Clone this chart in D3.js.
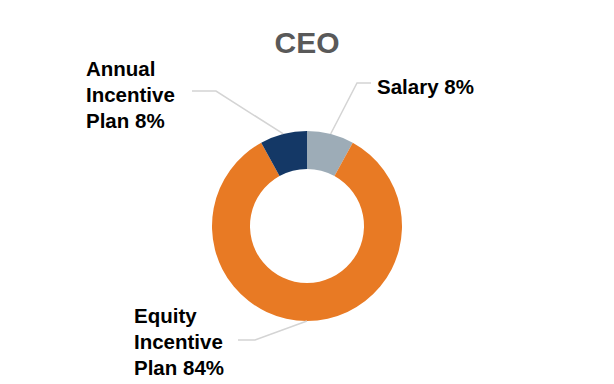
<!DOCTYPE html>
<html>
<head>
<meta charset="utf-8">
<script src="https://cdn.jsdelivr.net/npm/d3@7"></script>
<style>
  body { margin: 0; background: #fff; }
  svg { display: block; font-family: "Liberation Sans", Arial, sans-serif; }
</style>
</head>
<body>
<svg id="chart"></svg>
<script>
// data
const categories = ["Salary", "Equity Incentive Plan", "Annual Incentive Plan"];
const shares = [8, 84, 8];
const labelLines = [["Salary 8%"], ["Equity", "Incentive", "Plan 84%"], ["Annual", "Incentive", "Plan 8%"]];
const title = "CEO";

// layout
const width = 614, height = 384;
const cx = 307, cy = 226;
const outerR = 95, innerR = 57;
const colors = ["#9dacb7", "#e87a24", "#143866"];

// where each leader line bends and where its text sits
const callouts = [
  { elbow: [357, 83], end: [371, 83], textX: 377, textY: 94, anchor: "start" },
  { elbow: [255, 340], end: [238, 340], textX: 134, textY: 323, anchor: "start" },
  { elbow: [216, 91], end: [192, 91], textX: 86, textY: 76, anchor: "start" }
];

const svg = d3.select("#chart")
  .attr("width", width)
  .attr("height", height);

svg.append("text")
  .attr("x", cx)
  .attr("y", 53)
  .attr("text-anchor", "middle")
  .attr("font-size", 30)
  .attr("font-weight", "bold")
  .attr("fill", "#595959")
  .text(title);

const pie = d3.pie().sort(null).value(d => d);
const arcs = pie(shares);

const arc = d3.arc().innerRadius(innerR).outerRadius(outerR);

const g = svg.append("g").attr("transform", `translate(${cx},${cy})`);

g.selectAll("path.slice")
  .data(arcs)
  .enter()
  .append("path")
  .attr("class", "slice")
  .attr("d", arc)
  .attr("fill", (d, i) => colors[i]);

// leader lines start on the outer edge at the slice's mid angle
const edge = d3.arc().innerRadius(outerR).outerRadius(outerR);

arcs.forEach((d, i) => {
  const p = edge.centroid(d);
  const c = callouts[i];
  const pts = [[cx + p[0], cy + p[1]], c.elbow, c.end];
  svg.append("path")
    .attr("d", d3.line()(pts))
    .attr("fill", "none")
    .attr("stroke", "#d4d4d4")
    .attr("stroke-width", 1.5);

  const t = svg.append("text")
    .attr("x", c.textX)
    .attr("y", c.textY)
    .attr("text-anchor", c.anchor)
    .attr("font-size", 20.5)
    .attr("font-weight", "bold")
    .attr("fill", "#000");
  labelLines[i].forEach((line, j) => {
    t.append("tspan")
      .attr("x", c.textX)
      .attr("dy", j === 0 ? 0 : 26)
      .text(line);
  });
});
</script>
</body>
</html>
